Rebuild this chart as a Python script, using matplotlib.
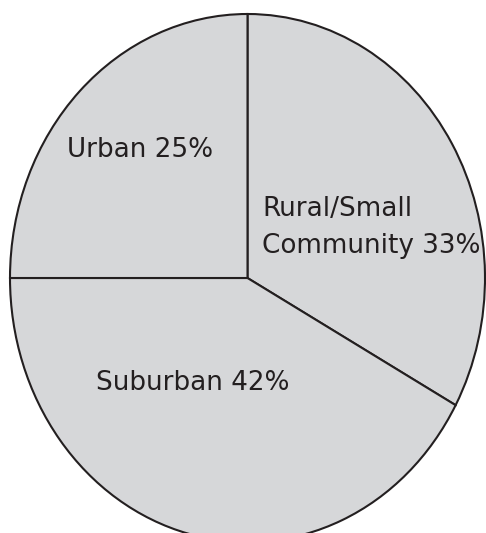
import matplotlib.pyplot as plt

# community type shares (percent), drawn clockwise from 12 o'clock
labels = ["Rural/Small\nCommunity 33%", "Suburban 42%", "Urban 25%"]
shares = [33, 42, 25]

W, H = 486, 533
fig = plt.figure(figsize=(W / 100, H / 100), dpi=100)
fig.patch.set_facecolor("white")

# axes box = ellipse box; the bottom of the pie runs off the canvas
ax = fig.add_axes([10 / W, -9 / H, 475 / W, 528 / H])
wedges, _ = ax.pie(
    shares,
    startangle=90,
    counterclock=False,
    colors=["#d6d7d9"] * len(shares),
    wedgeprops=dict(edgecolor="#231f20", linewidth=1.5),
)
for w in wedges:
    w.set_clip_on(False)
ax.set_aspect("auto")
ax.set_xlim(-1, 1)
ax.set_ylim(-1, 1)
ax.axis("off")

txt = dict(color="#231f20", fontsize=18.9, family="DejaVu Sans", va="baseline")
ax.text(-0.453, 0.458, labels[2], ha="center", **txt)
rural_top, rural_bottom = labels[0].split("\n")
ax.text(0.061, 0.235, rural_top, ha="left", **txt)
ax.text(0.061, 0.095, rural_bottom, ha="left", **txt)
ax.text(-0.232, -0.424, labels[1], ha="center", **txt)

fig.savefig("out.png", dpi=100)
